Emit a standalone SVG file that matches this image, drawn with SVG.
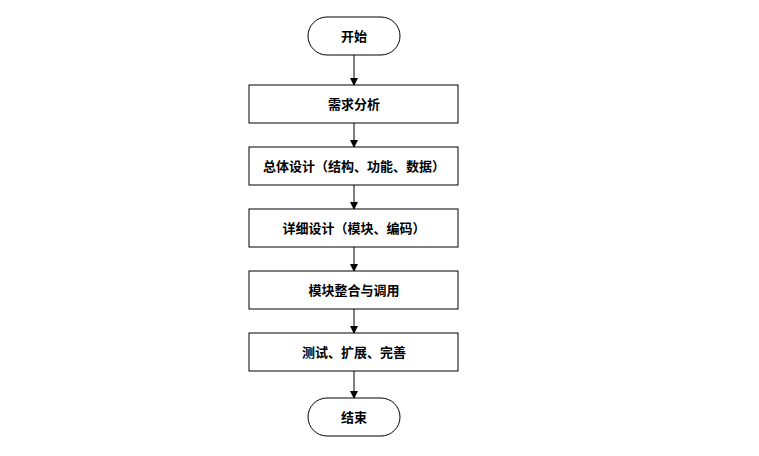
<svg xmlns="http://www.w3.org/2000/svg" width="759" height="456" viewBox="0 0 759 456">
<style>
.n{fill:#fff;stroke:#000;stroke-width:1}
.t{font-family:"Liberation Serif","Noto Sans CJK SC",serif;font-size:13px;font-weight:bold;fill:#000;text-anchor:middle;dominant-baseline:central}
.c{stroke:#000;stroke-width:1;fill:none;marker-end:url(#a)}
</style>
<defs>
<marker id="a" markerWidth="8" markerHeight="8" refX="7" refY="4" orient="auto" markerUnits="userSpaceOnUse">
<path d="M0,0 L8,4 L0,8 Z" fill="#000"/>
</marker>
</defs>
<rect width="759" height="456" fill="#fff"/>
<g id="connectors">
<line class="c" x1="354" y1="55" x2="354" y2="85"/>
<line class="c" x1="354" y1="123" x2="354" y2="147"/>
<line class="c" x1="354" y1="185" x2="354" y2="209"/>
<line class="c" x1="354" y1="247" x2="354" y2="271"/>
<line class="c" x1="354" y1="309" x2="354" y2="333"/>
<line class="c" x1="354" y1="371" x2="354" y2="398"/>
</g>
<g id="start"><rect class="n" x="308" y="17" width="92" height="38" rx="19" ry="19"/><text class="t" x="354" y="36">开始</text></g>
<g id="n1"><rect class="n" x="249" y="85" width="209" height="38"/><text class="t" x="354" y="104">需求分析</text></g>
<g id="n2"><rect class="n" x="249" y="147" width="209" height="38"/><text class="t" x="354" y="166">总体设计（结构、功能、数据）</text></g>
<g id="n3"><rect class="n" x="249" y="209" width="209" height="38"/><text class="t" x="354" y="228">详细设计（模块、编码）</text></g>
<g id="n4"><rect class="n" x="249" y="271" width="209" height="38"/><text class="t" x="354" y="290">模块整合与调用</text></g>
<g id="n5"><rect class="n" x="249" y="333" width="209" height="38"/><text class="t" x="354" y="352">测试、扩展、完善</text></g>
<g id="end"><rect class="n" x="308" y="398" width="92" height="38" rx="19" ry="19"/><text class="t" x="354" y="417">结束</text></g>
</svg>
